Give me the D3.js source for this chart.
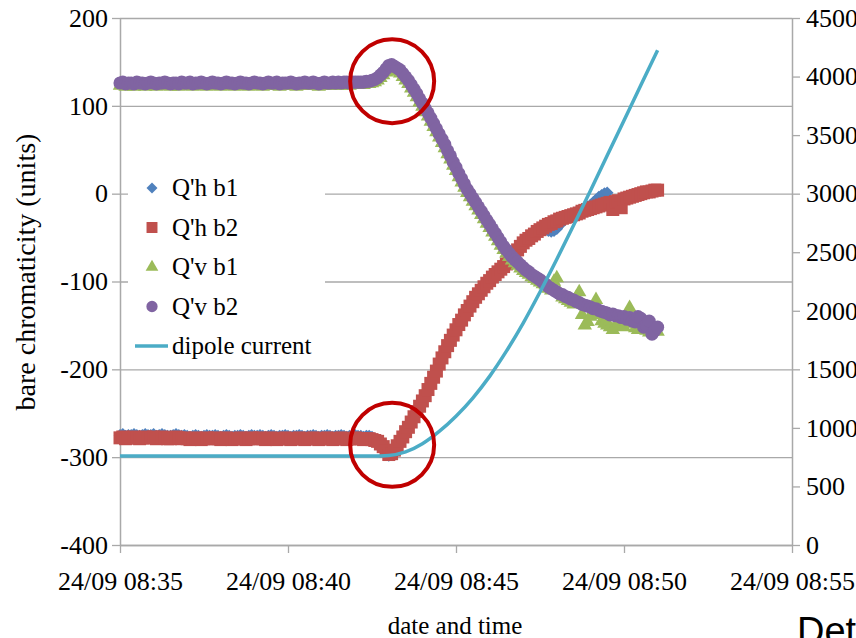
<!DOCTYPE html>
<html>
<head>
<meta charset="utf-8">
<script src="https://cdn.jsdelivr.net/npm/d3@7"></script>
<style>
  body { margin: 0; background: #fff; }
  svg { display: block; font-family: "Liberation Serif", "Times New Roman", serif; }
</style>
</head>
<body>
<svg id="chart" width="856" height="638"></svg>
<script>
// readings every 5 s from 08:35:00 (one row = one minute)
const sampleTimes = d3.range(193).map(i => new Date(2012, 8, 24, 8, 35, i * 5));
// dipole current read every 30 s
const dipoleTimes = d3.range(33).map(i => new Date(2012, 8, 24, 8, 35, i * 30));

const qhB1 = [
  -275,-274,-276,-275,-275,-274,-275,-276,-275,-274,-275,-275,
  -274,-276,-275,-274,-275,-276,-276,-275,-274,-275,-276,-275,
  -276,-277,-276,-275,-276,-277,-276,-275,-276,-276,-275,-276,
  -277,-276,-275,-276,-277,-276,-276,-275,-276,-277,-276,-275,
  -276,-276,-275,-276,-277,-276,-275,-276,-277,-276,-276,-275,
  -276,-277,-276,-276,-275,-276,-277,-276,-276,-275,-276,-277,
  -276,-276,-275,-276,-277,-276,-276,-275,-276,-277,-276,-276,
  -275,-276,-276,-277,-276,-276,-277,-279,-281,-285,-289,-294,
  -298,-297,-293,-288,-283,-278,-272,-266,-260,-254,-248,-242,
  -236,-230,-223,-216,-209,-202,-194,-187,-180,-173,-167,-161,
  -155,-149,-144,-138,-133,-128,-123,-118,-114,-110,-106,-102,
  -99,-95,-92,-89,-86,-83,-80,-76,-73,-68,-64,-60,
  -56,-53,-51,-48,-46,-44,-42,-41,-41,-42,-43,-42,
  -40,-36,-32,-29,-25,-24,-23,-21,-20,-18,-17,-15,
  -13,-10,-7,-4,-2,0,1
];
const qhB2 = [
  -278,-277,-279,-278,-278,-277,-278,-279,-278,-277,-278,-278,
  -277,-279,-278,-277,-278,-279,-279,-278,-277,-278,-279,-278,
  -279,-280,-279,-278,-279,-280,-279,-278,-279,-279,-278,-279,
  -280,-279,-278,-279,-280,-279,-279,-278,-279,-280,-279,-278,
  -279,-279,-278,-279,-280,-279,-278,-279,-280,-279,-279,-278,
  -279,-280,-279,-279,-278,-279,-280,-279,-279,-278,-279,-280,
  -279,-279,-278,-279,-280,-279,-279,-278,-279,-280,-279,-279,
  -278,-279,-279,-280,-279,-279,-280,-281,-282,-285,-288,-293,
  -297,-296,-292,-287,-282,-277,-271,-266,-260,-254,-248,-242,
  -236,-230,-223,-216,-209,-202,-194,-187,-180,-173,-167,-161,
  -155,-149,-144,-138,-133,-128,-123,-118,-114,-110,-106,-102,
  -99,-95,-92,-89,-86,-83,-80,-76,-73,-68,-64,-60,
  -56,-53,-51,-48,-46,-43,-41,-39,-37,-35,-34,-32,
  -31,-29,-28,-27,-26,-25,-24,-23,-22,-20,-19,-18,
  -17,-16,-15,-14,-13,-12,-11,-10,-18,-9,-8,-16,
  -6,-5,-4,-3,-2,-1,0,1,2,2,3,4,
  4
];
const qvB1 = [
  123,124,122,123,123,122,124,123,123,122,123,124,
  123,122,123,123,124,123,122,123,123,122,124,123,
  123,124,122,123,123,124,123,122,123,124,123,123,
  122,123,124,123,123,122,123,124,123,123,122,123,
  124,123,123,122,123,124,123,123,124,122,123,123,
  123,124,123,122,123,123,124,123,123,124,123,122,
  123,124,123,123,124,123,124,123,124,124,123,124,
  124,124,124,124,125,125,126,127,129,132,135,138,
  141,143,141,139,137,133,129,125,120,115,110,104,
  99,93,88,82,76,70,64,58,52,45,39,32,
  26,19,13,7,1,-4,-9,-14,-19,-24,-29,-34,
  -39,-44,-49,-54,-59,-64,-68,-72,-76,-79,-82,-85,
  -88,-90,-92,-95,-97,-99,-101,-103,-104,-108,-110,-100,
  -96,-113,-118,-120,-122,-124,-126,-118,-112,-138,-150,-146,
  -140,-133,-121,-138,-145,-148,-150,-152,-155,-151,-148,-150,
  -152,-140,-130,-148,-153,-155,-150,-154,-156,-158,-153,-155,
  -157
];
const qvB2 = [
  126,127,125,126,126,125,127,126,126,125,126,127,
  126,125,126,126,127,126,125,126,126,125,127,126,
  126,127,125,126,126,127,126,125,126,127,126,126,
  125,126,127,126,126,125,126,127,126,126,125,126,
  127,126,126,125,126,127,126,126,127,125,126,126,
  126,127,126,125,126,126,127,126,126,127,126,125,
  126,127,126,126,127,126,127,126,127,127,126,127,
  127,127,127,127,128,128,129,130,132,135,138,142,
  146,147,145,143,141,137,133,129,124,119,114,108,
  103,97,92,86,80,74,68,62,56,49,43,36,
  30,23,17,11,5,0,-5,-10,-15,-20,-25,-30,
  -35,-40,-45,-50,-55,-60,-64,-68,-72,-75,-78,-81,
  -84,-87,-89,-92,-94,-96,-98,-101,-103,-106,-108,-110,
  -112,-114,-115,-117,-118,-120,-121,-123,-124,-126,-127,-128,
  -129,-131,-131,-133,-134,-135,-136,-138,-137,-139,-139,-141,
  -140,-143,-141,-145,-146,-140,-142,-152,-150,-145,-160,-156,
  -152
];
const dipoleCurrent = [
  760,760,760,760,760,760,760,760,760,760,760,760,760,760,760,760,
  765,795,865,970,1100,1255,1440,1655,1895,2160,2440,2730,3025,3325,3625,3925,4225
];

const leftTicks = [-400, -300, -200, -100, 0, 100, 200];
const rightTicks = [0, 500, 1000, 1500, 2000, 2500, 3000, 3500, 4000, 4500];
const timeTicks = [35, 40, 45, 50, 55].map(m => new Date(2012, 8, 24, 8, m));

// the two red rings drawn on the chart
const highlights = [
  { time: new Date(2012, 8, 24, 8, 43, 6), value: 128 },
  { time: new Date(2012, 8, 24, 8, 43, 6), value: -286 }
];

const series = [
  { name: "Q'h b1", values: qhB1, color: "#4f81bd", shape: "diamond" },
  { name: "Q'h b2", values: qhB2, color: "#c0504d", shape: "square" },
  { name: "Q'v b1", values: qvB1, color: "#9bbb59", shape: "triangle" },
  { name: "Q'v b2", values: qvB2, color: "#8064a2", shape: "circle" }
];
const dipoleColor = "#4bacc6";

const serif = '"Liberation Serif", "Times New Roman", serif';
const plot = { left: 120, right: 792, top: 18, bottom: 545 };
const gridColor = "#a9a9a9";

const x = d3.scaleTime()
  .domain([timeTicks[0], timeTicks[timeTicks.length - 1]])
  .range([plot.left, plot.right]);
const yL = d3.scaleLinear().domain([-400, 200]).range([plot.bottom, plot.top]);
const yR = d3.scaleLinear().domain([0, 4500]).range([plot.bottom, plot.top]);

const svg = d3.select('#chart');

const symbols = {
  diamond: d3.symbol().type(d3.symbolSquare).size(80),
  square: d3.symbol().type(d3.symbolSquare).size(169),
  triangle: d3.symbol().type(d3.symbolTriangle).size(90),
  circle: d3.symbol().type(d3.symbolCircle).size(135)
};
const legendSymbols = {
  diamond: d3.symbol().type(d3.symbolSquare).size(60),
  square: d3.symbol().type(d3.symbolSquare).size(120),
  triangle: d3.symbol().type(d3.symbolTriangle).size(70),
  circle: d3.symbol().type(d3.symbolCircle).size(100)
};
function markerTransform(shape, px, py) {
  return shape === 'diamond'
    ? `translate(${px},${py}) rotate(45)`
    : `translate(${px},${py})`;
}

// gridlines
svg.append('g')
  .attr('transform', `translate(${plot.left},0)`)
  .call(d3.axisLeft(yL).tickValues(leftTicks).tickSize(-(plot.right - plot.left)).tickFormat(''))
  .call(g => g.select('.domain').remove())
  .call(g => g.selectAll('line').attr('stroke', gridColor).attr('stroke-width', 1.3));

// legend box (drawn before the data, covers gridlines)
const legend = svg.append('g');
legend.append('rect')
  .attr('x', 128).attr('y', 165).attr('width', 197).attr('height', 200)
  .attr('fill', '#fff');

// axes
function styleAxis(g) {
  g.attr('font-family', serif).attr('font-size', 26);
  g.select('.domain').attr('stroke', gridColor).attr('stroke-width', 1.5);
  g.selectAll('.tick line').attr('stroke', gridColor).attr('stroke-width', 1.3);
  g.selectAll('.tick text').attr('fill', '#000').style('font-family', serif);
}
const plain = d => String(d);

svg.append('g')
  .attr('transform', `translate(${plot.left},0)`)
  .call(d3.axisLeft(yL).tickValues(leftTicks).tickFormat(plain)
    .tickSize(8).tickSizeOuter(0).tickPadding(4))
  .call(styleAxis);

svg.append('g')
  .attr('transform', `translate(${plot.right},0)`)
  .call(d3.axisRight(yR).tickValues(rightTicks).tickFormat(plain)
    .tickSize(8).tickSizeOuter(0).tickPadding(6))
  .call(styleAxis);

svg.append('g')
  .attr('transform', `translate(0,${plot.bottom})`)
  .call(d3.axisBottom(x).tickValues(timeTicks).tickSize(8).tickSizeOuter(0).tickPadding(19)
    .tickFormat(d3.timeFormat('%d/%m %H:%M')))
  .call(styleAxis);

// axis titles
svg.append('text')
  .attr('x', 455).attr('y', 634)
  .attr('text-anchor', 'middle')
  .style('font-size', '25px')
  .text('date and time');

svg.append('text')
  .attr('transform', 'translate(35,272) rotate(-90)')
  .attr('text-anchor', 'middle')
  .style('font-size', '28px')
  .text('bare chromaticity (units)');

svg.append('text')
  .attr('x', 797).attr('y', 644)
  .style('font-family', '"Liberation Sans", Arial, sans-serif')
  .style('font-size', '38px')
  .text('Detail');

// data markers
series.forEach(s => {
  svg.append('g')
    .selectAll('path')
    .data(s.values)
    .join('path')
    .attr('d', symbols[s.shape])
    .attr('transform', (v, i) => markerTransform(s.shape, x(sampleTimes[i]), yL(v)))
    .attr('fill', s.color);
});

// dipole current on the secondary axis
const dipoleLine = d3.line()
  .x((d, i) => x(dipoleTimes[i]))
  .y(d => yR(d))
  .curve(d3.curveMonotoneX);

svg.append('path')
  .datum(dipoleCurrent)
  .attr('d', dipoleLine)
  .attr('fill', 'none')
  .attr('stroke', dipoleColor)
  .attr('stroke-width', 3.5);

// red rings
svg.append('g')
  .selectAll('circle')
  .data(highlights)
  .join('circle')
  .attr('cx', d => x(d.time))
  .attr('cy', d => yL(d.value))
  .attr('r', 42)
  .attr('fill', 'none')
  .attr('stroke', '#c00000')
  .attr('stroke-width', 4);

// legend entries
const legendRows = series.map(s => ({ name: s.name, color: s.color, shape: s.shape }))
  .concat([{ name: 'dipole current', color: dipoleColor, shape: 'line' }]);

legendRows.forEach((d, i) => {
  const cy = 188 + i * 39.5;
  if (d.shape === 'line') {
    legend.append('line')
      .attr('x1', 135).attr('x2', 168).attr('y1', cy).attr('y2', cy)
      .attr('stroke', d.color).attr('stroke-width', 3.5);
  } else {
    legend.append('path')
      .attr('d', legendSymbols[d.shape])
      .attr('transform', markerTransform(d.shape, 152, cy))
      .attr('fill', d.color);
  }
  legend.append('text')
    .attr('x', 172).attr('y', cy + 8)
    .style('font-size', '25px')
    .text(d.name);
});
</script>
</body>
</html>
